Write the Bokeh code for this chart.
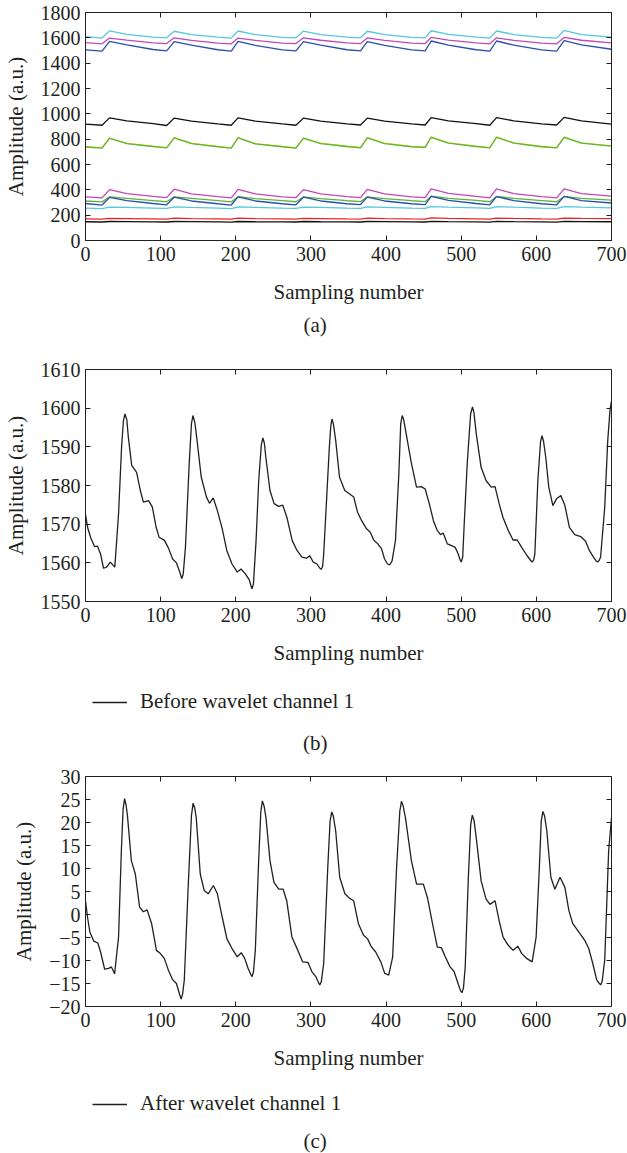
from bokeh.plotting import figure
from bokeh.layouts import column
from bokeh.models import LinearAxis, FixedTicker, Legend, LegendItem, Label, Range1d
from bokeh.embed import file_html
from bokeh.resources import INLINE

# ---------------- data ----------------
# panel (a): 12 raw channels, key samples
xa = [0, 22, 32, 55, 90, 108, 118, 141, 176, 194, 203, 226, 262, 280, 290, 313,
      348, 366, 375, 398, 434, 452, 460, 483, 520, 538, 547, 570, 607, 627, 637, 660, 700]
cyan_top = [1610, 1598, 1655, 1628, 1606, 1600, 1652, 1626, 1605, 1598, 1654, 1625, 1604, 1600, 1653, 1626,
            1605, 1600, 1652, 1625, 1604, 1600, 1656, 1627, 1606, 1598, 1654, 1626, 1604, 1598, 1658, 1626, 1606]
magenta_top = [1562, 1553, 1598, 1582, 1560, 1555, 1600, 1580, 1558, 1553, 1598, 1580, 1558, 1555, 1600, 1581,
               1560, 1555, 1599, 1580, 1558, 1555, 1603, 1582, 1560, 1553, 1600, 1580, 1558, 1553, 1603, 1581, 1560]
blue_top = [1505, 1495, 1572, 1545, 1508, 1497, 1570, 1542, 1506, 1495, 1572, 1540, 1505, 1497, 1570, 1542,
            1506, 1497, 1570, 1540, 1505, 1497, 1575, 1543, 1506, 1495, 1575, 1542, 1505, 1495, 1578, 1545, 1510]
black_mid = [918, 910, 968, 945, 922, 908, 966, 942, 920, 910, 968, 943, 920, 910, 966, 942,
             920, 912, 966, 942, 920, 912, 970, 945, 922, 910, 970, 945, 920, 912, 972, 945, 918]
yellow_mid = [740, 733, 806, 767, 744, 734, 812, 768, 743, 732, 812, 765, 742, 732, 806, 768,
              744, 735, 812, 768, 742, 737, 818, 771, 745, 734, 818, 770, 742, 734, 818, 770, 747]
green_mid = [738, 730, 808, 765, 742, 732, 810, 765, 740, 730, 810, 763, 740, 730, 808, 765,
             742, 732, 810, 765, 740, 735, 815, 768, 742, 732, 815, 768, 740, 732, 815, 768, 745]
magenta_low = [345, 336, 402, 370, 348, 338, 405, 368, 346, 336, 403, 368, 345, 338, 402, 368,
               346, 338, 403, 368, 345, 338, 408, 372, 348, 336, 408, 370, 346, 336, 408, 370, 350]
green_low = [312, 305, 345, 332, 315, 306, 345, 332, 314, 305, 346, 330, 314, 306, 344, 330,
             314, 307, 345, 330, 314, 307, 350, 333, 316, 306, 348, 332, 315, 306, 348, 332, 318]
blue_low = [292, 280, 340, 315, 292, 282, 342, 312, 290, 280, 344, 312, 290, 282, 342, 312,
            290, 284, 342, 312, 290, 284, 348, 316, 292, 282, 346, 315, 290, 282, 348, 315, 296]
cyan_low = [256, 252, 264, 262, 256, 253, 265, 261, 256, 252, 265, 261, 255, 253, 264, 261,
            256, 254, 265, 262, 256, 254, 268, 263, 257, 253, 268, 263, 256, 253, 268, 263, 258]
red_low = [170, 168, 175, 173, 170, 168, 176, 173, 170, 168, 176, 172, 170, 168, 175, 173,
           170, 169, 176, 173, 170, 169, 178, 174, 171, 168, 177, 174, 170, 168, 177, 174, 172]
black_low = [148, 146, 150, 149, 147, 146, 150, 149, 147, 145, 150, 148, 147, 146, 150, 148,
             147, 146, 150, 149, 147, 146, 151, 149, 147, 145, 151, 149, 147, 145, 151, 149, 148]

# panel (b): before wavelet, channel 1
xb = [0, 3, 7, 12, 16, 20, 24, 28, 33, 39, 44, 48, 50.5, 52.5, 55, 57, 61.5, 68, 73, 77, 84, 89, 94, 98, 105,
      110, 116, 121, 126, 128, 130, 133, 138, 141, 143, 145.5, 148.5, 154, 161, 165, 170, 175.5, 182, 188, 195,
      202, 207, 212.5, 218, 220, 221.5, 223.5, 227, 230.5, 234, 236, 238, 240, 245.5, 251, 257, 262.5, 268,
      275, 281.5, 288, 294, 298.5, 303, 308, 311.5, 313.5, 315.5, 317, 321, 324.5, 326.5, 328, 330, 333, 338,
      345, 351.5, 357, 362, 367.5, 374, 379, 383.5, 389, 394, 398, 402, 405, 408, 412.5, 417, 419.5, 421.5,
      423.5, 426, 433.5, 440.5, 447, 452, 457.5, 463, 468, 472.5, 476, 481.5, 486.5, 492, 496, 498.5, 500,
      502, 504, 508, 512.5, 515, 517, 520, 526.5, 533, 540, 545, 550.5, 555.5, 562.5, 569, 574.5, 580.5,
      587.5, 592.5, 594.5, 596.5, 598, 602, 605.5, 607.5, 609.5, 612.5, 616.5, 622, 627, 632.5, 638, 644, 651,
      659, 665.5, 670.5, 676, 679.5, 681.5, 683.5, 685.5, 691, 695, 698, 700]
yb = [1572.5, 1569, 1566.5, 1564.2, 1564.3, 1562.3, 1558.6, 1558.9, 1560.2, 1558.9, 1572.7, 1589.9, 1596.8,
      1598.5, 1597, 1592.5, 1585.2, 1583.4, 1578.7, 1575.7, 1576.1, 1574.4, 1569.2, 1566.6, 1565.8, 1564,
      1561, 1560, 1557.3, 1555.9, 1557, 1564, 1585.6, 1596, 1598.1, 1596.3, 1591.6, 1582.2, 1577, 1575.4,
      1576.8, 1573.5, 1568.8, 1563.2, 1559.7, 1557.6, 1558.4, 1557.2, 1555.6, 1554.2, 1553.3, 1554.5, 1565.8,
      1581.3, 1590.5, 1592.3, 1591, 1587.3, 1578.7, 1575.3, 1574.6, 1574.9, 1571.8, 1565.8, 1563.2, 1561.5,
      1561.2, 1561.8, 1560.2, 1559.7, 1558.7, 1558.3, 1559, 1562.3, 1577, 1589.9, 1595.5, 1597.2, 1595.8,
      1591.6, 1582.2, 1578.7, 1577.8, 1577, 1573.1, 1570.9, 1568.8, 1567.9, 1565.9, 1564.9, 1563.6, 1561,
      1559.7, 1559.5, 1560.5, 1565.8, 1583, 1596, 1598.1, 1597, 1594.2, 1586, 1579.6, 1579.7, 1579.1, 1575.3,
      1570.9, 1568.4, 1567.3, 1567.7, 1564.9, 1564.5, 1564, 1562.3, 1560.8, 1560.2, 1561.5, 1570.1, 1585.6,
      1598.5, 1600.3, 1598.8, 1593.4, 1584.7, 1581.3, 1579.6, 1579.7, 1575.3, 1571.8, 1568.4, 1565.9,
      1565.9, 1564, 1561.9, 1560.6, 1560.2, 1560.8, 1562.3, 1581.3, 1591.2, 1592.9, 1591.5, 1587.3, 1579.6,
      1574.8, 1576.6, 1577.4, 1574.8, 1569.2, 1567.3, 1566.8, 1565.6, 1563.2, 1561.5, 1560.5, 1560.2,
      1560.6, 1561.5, 1574.4, 1591.6, 1599.5, 1601.8]

# panel (c): after wavelet, channel 1
xc = [0, 2.7, 5.8, 11, 16.4, 20, 25.5, 30.8, 34.5, 38.7, 44, 47.7, 50, 52, 54, 55.7, 61, 66.3, 72, 77, 82, 88,
      94.4, 99.7, 105, 110.3, 115.6, 121, 125.5, 127.3, 129.2, 131.5, 136.8, 141, 143.2, 145.3, 147.4, 152.7,
      158, 163.3, 170.2, 175.5, 182, 188.2, 195, 202, 207.3, 212, 216.3, 219.8, 221.6, 223.5, 226, 230.6,
      233.3, 235.4, 237.6, 240.2, 245.5, 250.8, 257.2, 263, 267.8, 274.7, 282.6, 289, 296, 301.2, 306.5,
      310, 311.8, 313.8, 317, 322.4, 325.5, 327.7, 329.8, 333, 338.3, 345.2, 351.5, 356.8, 363.2, 370, 375.4,
      380.7, 386, 393, 398.2, 403.5, 408.8, 414, 418.3, 420.5, 422.7, 425.8, 433.7, 440.6, 449.6, 455, 461.8,
      468.2, 473.5, 478.8, 485.2, 490.5, 495.8, 499.2, 501, 503, 505.3, 509.5, 512.6, 514.8, 517, 520, 526.5,
      533, 538.2, 545, 550.4, 555.7, 562.6, 569, 575.4, 580.6, 587.5, 594.4, 599.7, 604, 606.5, 608.7, 611,
      614, 619.3, 624.6, 631.5, 638, 643.2, 648.5, 656.4, 664.4, 669.7, 675, 680.3, 683.8, 685.6, 687.5, 691,
      696.2, 700]
yc = [2.9, -0.6, -3.8, -5.8, -6.2, -8.1, -11.9, -11.7, -11.4, -12.9, -4.9, 13.8, 22.8, 25.2, 23.8, 21.7,
      11.7, 8.8, 1.6, 0.6, 1.0, -2.0, -7.8, -8.5, -9.6, -12.1, -14.1, -15.0, -17.5, -18.4, -17.3, -14.2,
      6.6, 21.5, 24.2, 23.2, 21.0, 8.8, 5.2, 4.5, 6.3, 4.5, -0.6, -5.3, -7.4, -9.2, -8.3, -9.6, -11.7, -13.0,
      -13.5, -12.5, -7.8, 12.4, 22.3, 24.7, 23.6, 21.0, 11.7, 7.0, 5.5, 5.5, 3.0, -4.9, -7.8, -10.3, -10.4,
      -12.4, -13.5, -14.8, -15.3, -14.6, -10.6, 10.2, 20.3, 22.3, 21.4, 18.1, 8.1, 4.5, 3.5, 3.0, -2.0, -4.5,
      -5.3, -7.1, -8.1, -10.3, -12.8, -13.2, -9.2, 10.2, 22.5, 24.6, 23.6, 21.0, 11.7, 6.6, 6.6, 3.7, -2.0,
      -7.1, -7.2, -9.2, -11.4, -12.4, -15.0, -16.6, -17.0, -16.0, -11.4, 8.1, 19.5, 21.6, 20.5, 16.7, 7.3,
      3.4, 2.2, 3.0, -1.3, -4.9, -6.7, -7.8, -6.9, -8.5, -9.6, -10.3, -4.9, 10.2, 20.3, 22.4, 21.4, 18.1,
      8.1, 5.5, 8.1, 5.9, 0.9, -2.0, -3.8, -5.6, -7.4, -10.6, -14.2, -15.0, -15.3, -14.6, -9.9, 13.8, 21.0]

x_ticks = [0, 100, 200, 300, 400, 500, 600, 700]
ya_ticks = [0, 200, 400, 600, 800, 1000, 1200, 1400, 1600, 1800]
yb_ticks = [1550, 1560, 1570, 1580, 1590, 1600, 1610]
yc_ticks = [-20, -15, -10, -5, 0, 5, 10, 15, 20, 25, 30]

x_label = "Sampling number"
y_label = "Amplitude (a.u.)"
legend_b = "Before wavelet channel 1"
legend_c = "After wavelet channel 1"

# ---------------- styling ----------------
FONT = "Liberation Serif"
INK = "#231f20"
TICK_FS = "20px"
LAB_FS = "21px"
W = 627


def style_axis(ax):
    ax.axis_line_color = INK
    ax.axis_line_width = 1
    ax.major_tick_line_color = INK
    ax.major_tick_in = 5
    ax.major_tick_out = 0
    ax.minor_tick_line_color = None
    ax.major_label_text_font = FONT
    ax.major_label_text_font_size = TICK_FS
    ax.major_label_text_color = INK
    ax.axis_label_text_font = FONT
    ax.axis_label_text_font_size = LAB_FS
    ax.axis_label_text_font_style = "normal"
    ax.axis_label_text_color = INK


def make_fig(h, yr, bt, bb, yticks, overrides=None):
    p = figure(width=W, height=h, x_range=Range1d(0, 700), y_range=Range1d(*yr),
               output_backend="svg", toolbar_location=None,
               min_border_left=83, min_border_right=16, min_border_top=bt, min_border_bottom=bb)
    p.xgrid.visible = False
    p.ygrid.visible = False
    p.outline_line_color = None
    for ax in (p.xaxis[0], p.yaxis[0]):
        style_axis(ax)
    p.xaxis[0].ticker = FixedTicker(ticks=x_ticks)
    p.yaxis[0].ticker = FixedTicker(ticks=yticks)
    p.xaxis[0].axis_label = x_label
    p.yaxis[0].axis_label = y_label
    p.xaxis[0].major_label_standoff = 6
    p.xaxis[0].axis_label_standoff = 16
    p.yaxis[0].major_label_standoff = 5
    p.yaxis[0].axis_label_standoff = 10
    if overrides:
        p.yaxis[0].major_label_overrides = overrides
    top = LinearAxis(ticker=FixedTicker(ticks=x_ticks))
    right = LinearAxis(ticker=FixedTicker(ticks=yticks))
    for ax in (top, right):
        style_axis(ax)
        ax.major_label_text_font_size = "1px"
        ax.major_label_text_color = None
        ax.major_label_standoff = 0
    p.add_layout(top, "above")
    p.add_layout(right, "right")
    return p


def footer(h, cap, cap_y, legend_text=None, leg_y=None):
    f = figure(width=W, height=h, x_range=Range1d(0, 1), y_range=Range1d(0, 1),
               output_backend="svg", toolbar_location=None,
               min_border_left=83, min_border_right=16, min_border_top=0, min_border_bottom=0)
    f.axis.visible = False
    f.grid.visible = False
    f.outline_line_color = None
    f.add_layout(Label(x=0.4366, y=cap_y, text=cap, text_align="center", text_baseline="middle",
                       text_font=FONT, text_font_size=LAB_FS, text_color=INK))
    if legend_text:
        swatch = f.line(x=[0], y=[0], line_color=INK, line_width=1.3)
        leg = Legend(items=[LegendItem(label=legend_text, renderers=[swatch])],
                     location=(7, leg_y), orientation="horizontal",
                     border_line_color=None, background_fill_alpha=0,
                     margin=0, padding=0, spacing=0, glyph_width=35, glyph_height=20,
                     label_height=20, label_standoff=13, label_text_font=FONT,
                     label_text_font_size=LAB_FS, label_text_color=INK)
        f.add_layout(leg)
    return f


# ---------------- panel (a) ----------------
pa = make_fig(312, (0, 1800), 12, 72, ya_ticks)
series_a = [
    (cyan_top, "#55c8dc"), (magenta_top, "#c447b4"), (blue_top, "#2a4fae"),
    (black_mid, "#111111"), (yellow_mid, "#e6e020"), (green_mid, "#5cb43a"),
    (magenta_low, "#c447b4"), (green_low, "#5cb43a"), (blue_low, "#2a4fae"),
    (cyan_low, "#55c8dc"), (red_low, "#e8262a"), (black_low, "#111111"),
]
for ys, col in series_a:
    pa.line(xa, ys, line_color=col, line_width=1.3)
fa = footer(33, "(a)", 0.62)

# ---------------- panel (b) ----------------
pb = make_fig(328, (1550, 1610), 24, 72, yb_ticks)
pb.line(xb, yb, line_color=INK, line_width=1.3)
fb = footer(84, "(b)", 0.17, legend_b, 43)

# ---------------- panel (c) ----------------
minus = {v: ("\u2212" + str(abs(v))) if v < 0 else str(v) for v in yc_ticks}
pc = make_fig(321, (-20, 30), 19, 72, yc_ticks, overrides=minus)
pc.line(xc, yc, line_color=INK, line_width=1.3)
fc = footer(75, "(c)", 0.17, legend_c, 37)

layout = column(pa, fa, pb, fb, pc, fc, spacing=0)
open("out.html", "w").write(file_html(layout, INLINE))
